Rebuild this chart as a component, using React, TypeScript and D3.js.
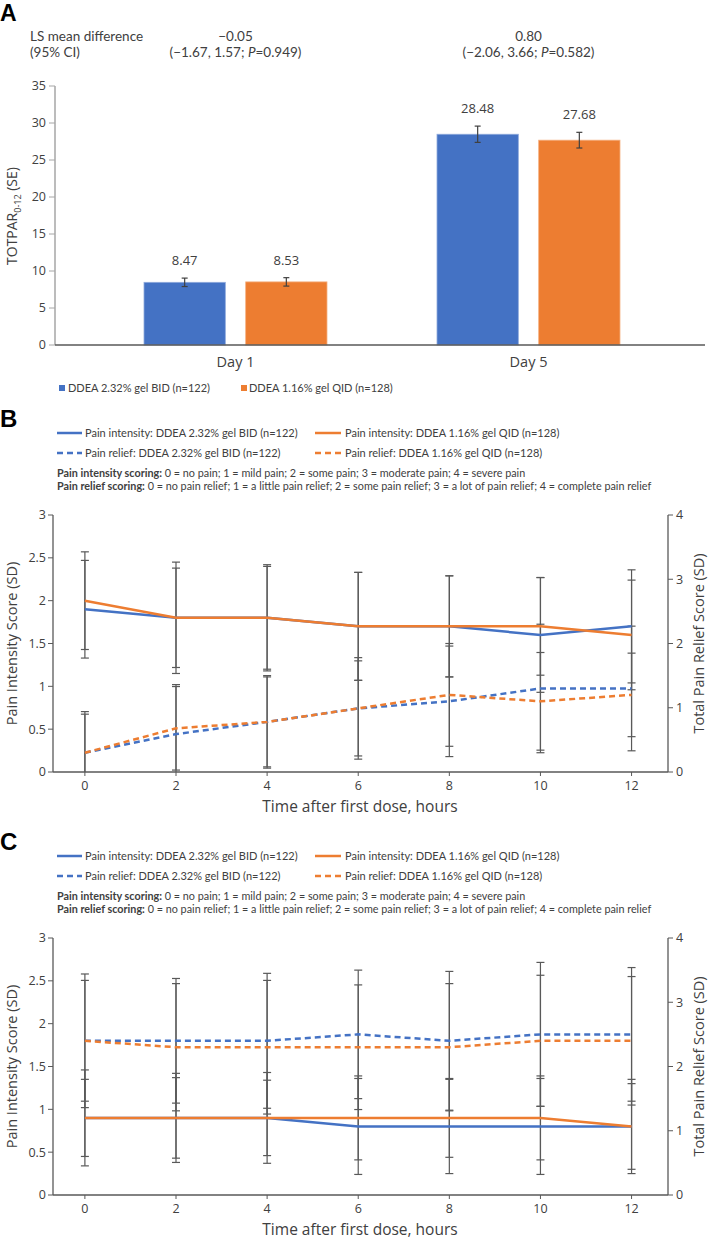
import * as d3 from "d3";

// ---- Panel A: TOTPAR0-12 bars ----
const categories = ["Day 1", "Day 5"];
const bidMean = [8.47, 28.48];
const bidSe = [0.57, 1.1];
const qidMean = [8.53, 27.68];
const qidSe = [0.57, 1.06];
const lsDiff = ["\u22120.05", "0.80"];
const lsCi = ["\u22121.67, 1.57", "\u22122.06, 3.66"];
const lsP = ["0.949", "0.582"];
const totparTicks = [0, 5, 10, 15, 20, 25, 30, 35];

// ---- Panels B and C: scores over time ----
const hours = [0, 2, 4, 6, 8, 10, 12];
const leftTicks = [0, 0.5, 1, 1.5, 2, 2.5, 3];
const rightTicks = [0, 1, 2, 3, 4];

const bIntensityBid = [1.9, 1.8, 1.8, 1.7, 1.7, 1.6, 1.7];
const bIntensityBidSd = [0.57, 0.65, 0.62, 0.63, 0.59, 0.67, 0.66];
const bIntensityQid = [2.0, 1.8, 1.8, 1.7, 1.7, 1.7, 1.6];
const bIntensityQidSd = [0.57, 0.58, 0.6, 0.63, 0.59, 0.57, 0.64];
const bReliefBid = [0.3, 0.59, 0.78, 0.99, 1.1, 1.3, 1.3];
const bReliefBidSd = [0.64, 0.77, 0.72, 0.79, 0.86, 1.0, 0.97];
const bReliefQid = [0.3, 0.68, 0.78, 0.99, 1.2, 1.1, 1.2];
const bReliefQidSd = [0.6, 0.65, 0.7, 0.74, 0.8, 0.76, 0.65];

const cIntensityBid = [0.9, 0.9, 0.9, 0.8, 0.8, 0.8, 0.8];
const cIntensityBidSd = [0.56, 0.52, 0.53, 0.56, 0.55, 0.56, 0.55];
const cIntensityQid = [0.9, 0.9, 0.9, 0.9, 0.9, 0.9, 0.8];
const cIntensityQidSd = [0.45, 0.47, 0.44, 0.49, 0.46, 0.49, 0.5];
const cReliefBid = [2.4, 2.4, 2.4, 2.5, 2.4, 2.5, 2.5];
const cReliefBidSd = [1.04, 0.97, 1.05, 1.0, 1.08, 1.12, 1.04];
const cReliefQid = [2.4, 2.3, 2.3, 2.3, 2.3, 2.4, 2.4];
const cReliefQidSd = [0.94, 0.99, 1.04, 0.97, 0.99, 1.02, 1.0];

const BLUE = "#4472c4";
const ORANGE = "#ed7d31";
const AXIS = "#595959";
const INK = "#404040";
const NARROW = "Lato, 'Open Sans', sans-serif";
const SANS = "'Open Sans', 'Noto Sans', sans-serif";
const BOLD = "'Liberation Sans', Arial, sans-serif";

function BarPanel() {
  const x = d3.scaleBand<string>().domain(categories).range([89, 675]);
  const sub = d3.scaleBand<string>().domain(["bid", "qid"]).range([0, 183]).paddingInner(0.2);
  const y = d3.scaleLinear().domain([0, 35]).range([345, 86]);
  const groups = [
    { key: "bid", mean: bidMean, se: bidSe, color: BLUE, edge: "#8faadc" },
    { key: "qid", mean: qidMean, se: qidSe, color: ORANGE, edge: "#f4b183" },
  ];
  return (
    <g>
      <text x={0} y={21} fontFamily={BOLD} fontWeight="bold" fontSize={23} fill="#000">
        A
      </text>
      <g fontFamily={NARROW} fontSize={13.5} fill={INK}>
        <text x={30} y={41}>LS mean difference</text>
        <text x={30} y={57}>(95% CI)</text>
        {categories.map((c, i) => (
          <g key={c}>
            <text x={x(c)! + x.bandwidth() / 2} y={41} textAnchor="middle">
              {lsDiff[i]}
            </text>
            <text x={x(c)! + x.bandwidth() / 2} y={57} textAnchor="middle">
              ({lsCi[i]}; <tspan fontStyle="italic">P</tspan>={lsP[i]})
            </text>
          </g>
        ))}
      </g>

      {/* y axis */}
      <line x1={55} x2={55} y1={y(35)} y2={y(0)} stroke="#a6a6a6" strokeWidth={1.5} />
      {totparTicks.map((t) => (
        <g key={t}>
          <line x1={49} x2={55} y1={y(t)} y2={y(t)} stroke="#a6a6a6" strokeWidth={1} />
          <text x={46} y={y(t)} dy="0.35em" textAnchor="end" fontFamily={SANS} fontSize={12.5} fill={INK}>
            {t}
          </text>
        </g>
      ))}
      <text
        transform={`translate(17,216) rotate(-90)`}
        textAnchor="middle"
        fontFamily={SANS}
        fontSize={14}
        fill={INK}
      >
        TOTPAR<tspan fontSize={9} dy={4}>0-12</tspan>
        <tspan dy={-4}> (SE)</tspan>
      </text>

      {/* bars */}
      {categories.map((c, i) =>
        groups.map((g) => {
          const bx = x(c)! + (x.bandwidth() - 183) / 2 + sub(g.key)!;
          const cx = bx + sub.bandwidth() / 2;
          const top = y(g.mean[i] + g.se[i]);
          const bot = y(g.mean[i] - g.se[i]);
          return (
            <g key={c + g.key}>
              <rect
                x={bx}
                y={y(g.mean[i])}
                width={sub.bandwidth()}
                height={y(0) - y(g.mean[i])}
                fill={g.color}
                stroke={g.edge}
                strokeWidth={0.8}
              />
              <line x1={cx} x2={cx} y1={top} y2={bot} stroke={INK} strokeWidth={1.2} />
              <line x1={cx - 3} x2={cx + 3} y1={top} y2={top} stroke={INK} strokeWidth={1.2} />
              <line x1={cx - 3} x2={cx + 3} y1={bot} y2={bot} stroke={INK} strokeWidth={1.2} />
              <text x={cx} y={top - 13} textAnchor="middle" fontFamily={SANS} fontSize={13} fill={INK}>
                {g.mean[i].toFixed(2)}
              </text>
            </g>
          );
        })
      )}
      <line x1={55} x2={705} y1={y(0)} y2={y(0)} stroke={AXIS} strokeWidth={1.3} />
      {categories.map((c) => (
        <text key={c} x={x(c)! + x.bandwidth() / 2} y={367} textAnchor="middle" fontFamily={SANS} fontSize={14.5} fill={INK}>
          {c}
        </text>
      ))}

      {/* legend */}
      <g fontFamily={NARROW} fontSize={11} fill={INK}>
        <rect x={59} y={385} width={6} height={6} fill={BLUE} />
        <text x={68} y={392}>DDEA 2.32% gel BID (n=122)</text>
        <rect x={241} y={385} width={6} height={6} fill={ORANGE} />
        <text x={249} y={392}>DDEA 1.16% gel QID (n=128)</text>
      </g>
    </g>
  );
}

interface Series {
  mean: number[];
  sd: number[];
  color: string;
  dashed: boolean;
  axis: "left" | "right";
}

function LinePanel({ letter, dy, series }: { letter: string; dy: number; series: Series[] }) {
  const x = d3.scaleLinear().domain([-0.7, 12.8]).range([53, 668]);
  const yL = d3.scaleLinear().domain([0, 3]).range([772 + dy, 515 + dy]);
  const yR = d3.scaleLinear().domain([0, 4]).range([772 + dy, 515 + dy]);
  const legY = 433 + dy;
  const base = yL(0);

  return (
    <g>
      <text x={0} y={legY - 6} fontFamily={BOLD} fontWeight="bold" fontSize={24} fill="#000">
        {letter}
      </text>
      <g fontFamily={NARROW} fontSize={11} fill={INK}>
        <line x1={57} x2={82} y1={legY} y2={legY} stroke={BLUE} strokeWidth={2.5} />
        <text x={85} y={legY} dy="0.35em">Pain intensity: DDEA 2.32% gel BID (n=122)</text>
        <line x1={315} x2={341} y1={legY} y2={legY} stroke={ORANGE} strokeWidth={2.5} />
        <text x={345} y={legY} dy="0.35em">Pain intensity: DDEA 1.16% gel QID (n=128)</text>
        <line x1={57} x2={82} y1={legY + 20} y2={legY + 20} stroke={BLUE} strokeWidth={2.5} strokeDasharray="6 4" />
        <text x={85} y={legY + 20} dy="0.35em">Pain relief: DDEA 2.32% gel BID (n=122)</text>
        <line x1={315} x2={341} y1={legY + 20} y2={legY + 20} stroke={ORANGE} strokeWidth={2.5} strokeDasharray="6 4" />
        <text x={345} y={legY + 20} dy="0.35em">Pain relief: DDEA 1.16% gel QID (n=128)</text>
      </g>
      <g fontFamily={NARROW} fontSize={10.8} fill={INK}>
        <text x={57} y={legY + 40} dy="0.35em">
          <tspan fontWeight="bold">Pain intensity scoring:</tspan>
          {" 0 = no pain; 1 = mild pain; 2 = some pain; 3 = moderate pain; 4 = severe pain"}
        </text>
        <text x={57} y={legY + 53} dy="0.35em">
          <tspan fontWeight="bold">Pain relief scoring:</tspan>
          {" 0 = no pain relief; 1 = a little pain relief; 2 = some pain relief; 3 = a lot of pain relief; 4 = complete pain relief"}
        </text>
      </g>

      {/* axes */}
      <line x1={53} x2={53} y1={yL(3)} y2={base} stroke={AXIS} strokeWidth={1.3} />
      <line x1={668} x2={668} y1={yR(4)} y2={base} stroke={AXIS} strokeWidth={1.3} />
      <line x1={53} x2={668} y1={base} y2={base} stroke={AXIS} strokeWidth={1.3} />
      {leftTicks.map((t) => (
        <g key={t}>
          <line x1={48} x2={53} y1={yL(t)} y2={yL(t)} stroke={AXIS} />
          <text x={46} y={yL(t)} dy="0.35em" textAnchor="end" fontFamily={SANS} fontSize={12.5} fill={INK}>
            {t}
          </text>
        </g>
      ))}
      {rightTicks.map((t) => (
        <g key={t}>
          <line x1={668} x2={673} y1={yR(t)} y2={yR(t)} stroke={AXIS} />
          <text x={676} y={yR(t)} dy="0.35em" fontFamily={SANS} fontSize={12.5} fill={INK}>
            {t}
          </text>
        </g>
      ))}
      {hours.map((h) => (
        <g key={h}>
          <line x1={x(h)} x2={x(h)} y1={base} y2={base + 4} stroke={AXIS} />
          <text x={x(h)} y={base + 14} dy="0.35em" textAnchor="middle" fontFamily={SANS} fontSize={12.5} fill={INK}>
            {h}
          </text>
        </g>
      ))}
      <text x={360} y={base + 40} textAnchor="middle" fontFamily={SANS} fontSize={15.5} fill={INK}>
        Time after first dose, hours
      </text>
      <text transform={`translate(17,${(yL(3) + base) / 2}) rotate(-90)`} textAnchor="middle" fontFamily={SANS} fontSize={14.5} fill={INK}>
        Pain Intensity Score (SD)
      </text>
      <text transform={`translate(704,${(yL(3) + base) / 2}) rotate(-90)`} textAnchor="middle" fontFamily={SANS} fontSize={14.5} fill={INK}>
        Total Pain Relief Score (SD)
      </text>

      {/* error bars */}
      {series.map((s, si) => {
        const y = s.axis === "left" ? yL : yR;
        return s.mean.map((m, i) => {
          const cx = x(hours[i]);
          const hi = y(m + s.sd[i]);
          const clipped = m - s.sd[i] < 0;
          const lo = y(Math.max(0, m - s.sd[i]));
          return (
            <g key={`${si}-${i}`} stroke={AXIS} strokeWidth={1.2}>
              <line x1={cx} x2={cx} y1={hi} y2={lo} />
              <line x1={cx - 4} x2={cx + 4} y1={hi} y2={hi} />
              {!clipped && <line x1={cx - 4} x2={cx + 4} y1={lo} y2={lo} />}
            </g>
          );
        });
      })}

      {/* lines */}
      {series.map((s, si) => {
        const y = s.axis === "left" ? yL : yR;
        const line = d3
          .line<number>()
          .x((_d, i) => x(hours[i]))
          .y((d) => y(d));
        return (
          <path
            key={si}
            d={line(s.mean) ?? ""}
            fill="none"
            stroke={s.color}
            strokeWidth={2.5}
            strokeDasharray={s.dashed ? "6 4" : undefined}
          />
        );
      })}
    </g>
  );
}

export default function App() {
  const seriesB: Series[] = [
    { mean: bIntensityBid, sd: bIntensityBidSd, color: BLUE, dashed: false, axis: "left" },
    { mean: bIntensityQid, sd: bIntensityQidSd, color: ORANGE, dashed: false, axis: "left" },
    { mean: bReliefBid, sd: bReliefBidSd, color: BLUE, dashed: true, axis: "right" },
    { mean: bReliefQid, sd: bReliefQidSd, color: ORANGE, dashed: true, axis: "right" },
  ];
  const seriesC: Series[] = [
    { mean: cIntensityBid, sd: cIntensityBidSd, color: BLUE, dashed: false, axis: "left" },
    { mean: cIntensityQid, sd: cIntensityQidSd, color: ORANGE, dashed: false, axis: "left" },
    { mean: cReliefBid, sd: cReliefBidSd, color: BLUE, dashed: true, axis: "right" },
    { mean: cReliefQid, sd: cReliefQidSd, color: ORANGE, dashed: true, axis: "right" },
  ];
  return (
    <svg
      width={709}
      height={1240}
      viewBox="0 0 709 1240"
      style={{ position: "absolute", left: 0, top: 0, background: "#fff" }}
    >
      <rect width={709} height={1240} fill="#fff" />
      <BarPanel />
      <LinePanel letter="B" dy={0} series={seriesB} />
      <LinePanel letter="C" dy={423} series={seriesC} />
    </svg>
  );
}
